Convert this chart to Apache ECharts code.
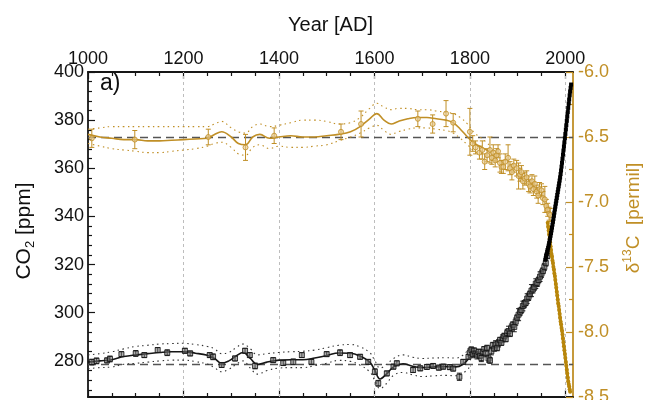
<!DOCTYPE html>
<html><head><meta charset="utf-8">
<script src="https://cdn.jsdelivr.net/npm/echarts@6.0.0/dist/echarts.min.js"></script>
<style>html,body{margin:0;padding:0;background:#fff}#c{width:649px;height:400px}</style>
</head><body><div id="c"></div>
<script>
// ---------- axis ticks ----------
const yearTicks = [1000,1200,1400,1600,1800,2000];
const yearMinor = [1050,1100,1150,1250,1300,1350,1450,1500,1550,1650,1700,1750,1850,1900,1950];
const gridYears = [1200,1400,1600,1800,2000];
const co2Ticks = [280,300,320,340,360,380,400];
const co2Minor = [268,272,276,284,288,292,296,304,308,312,316,324,328,332,336,344,348,352,356,364,368,372,376,384,388,392,396];
const d13Ticks = [-8.5,-8.0,-7.5,-7.0,-6.5,-6.0];
const d13Minor = [-8.25,-7.75,-7.25,-6.75,-6.25];
const co2Ref = 278.7;
const d13Ref = -6.5;

// ---------- CO2 (black) ----------
const co2SmoothYears = [1000,1025,1050,1075,1100,1125,1150,1175,1200,1225,1250,1265,1280,1295,1310,1325,1340,1355,1375,1400,1425,1450,1475,1500,1525,1550,1570,1590,1600,1612,1625,1640,1660,1680,1700,1725,1750,1770,1785,1800];
const co2Smooth = [279.5,280,280.5,281.8,282.5,283,283.5,283.8,283.8,283.2,282.3,281,279,280,282,283.5,281,278.5,279.5,280.3,280.5,280.5,281.2,282.2,283.3,283.2,282,279.5,276.5,272.5,274.5,277.5,278.8,277.8,277.2,277.5,277.6,277.5,278.5,281.5];
const co2Upper = [282.5,283,283.8,285,286,286.5,287,287.2,287.3,286.8,286,285,283,283.5,285.5,287,285,282.5,283,283.5,283.8,284,284.5,285.5,286.5,286.8,285.8,283.5,280.5,277,278.5,281,282.5,281.5,281,281.2,281.3,281.2,282.3,285.5];
const co2Lower = [276.8,277.2,277.5,278.6,279,279.5,280,280.3,280.3,279.7,278.7,277.2,275.5,276.5,278.5,280,277,274.5,276,277,277.2,277.2,278,279,280.2,279.8,278.2,275.5,272.2,268.5,270.5,274,275.2,274.2,273.5,273.8,274,273.8,274.8,277.5];

const co2IceYears = [1008,1018,1040,1046,1070,1100,1118,1146,1166,1203,1214,1255,1262,1280,1308,1329,1339,1350,1388,1409,1430,1448,1468,1500,1528,1549,1570,1587,1601,1608,1626,1640,1647,1681,1696,1710,1723,1735,1744,1758,1765,1778,1786,1797];
const co2IceVals  = [279.5,280,280.2,280.8,282.8,283.1,282.4,284.5,283.4,284.2,283.1,282.4,281.7,278.3,281,284.2,282.4,277.9,280.3,279.1,279.6,282.4,279.6,282.8,283.4,282.4,281.7,279.6,275.5,270.7,274.8,277.6,279,276.2,276.9,277.5,277.9,277.2,277.6,277.4,276.8,273.4,279.6,281.7];
const co2IceErr   = [1.2,1.2,1,1.2,1,1.2,1,1,1.2,1,1,1,1.2,1,1,1,1,1.2,1,1,1.2,1,1,1,1.2,1,1,1,1.2,1.2,1,1,1,1,1,1,1,1,1,1,1,1.5,1,1];

const co2FirnYears = [1800,1803,1806,1809,1812,1815,1818,1821,1824,1827,1830,1833,1836,1839,1842,1845,1848,1851,1854,1857,1860,1863,1866,1869,1872,1875,1878,1881,1884,1887,1890,1893,1896,1899,1902,1905,1908,1911,1914,1917,1920,1923,1926,1929,1932,1935,1938,1941,1944,1947,1950,1953,1956,1959,1962,1965];
const co2FirnVals  = [283.5,284.6,282.8,284.2,283.0,282.3,283.7,282.1,281.2,283.6,284.9,283.2,285.3,281.0,280.2,284.0,286.5,285.1,286.9,285.4,287.3,288.6,287.5,289.4,290.3,289.0,291.6,292.4,291.3,293.8,295.0,294.1,296.3,297.9,299.2,300.4,301.1,302.8,303.6,304.2,305.9,306.6,307.8,309.2,309.7,310.6,312.1,312.4,313.6,315.0,316.2,317.4,319.0,320.6,323.5,325.8];
const co2FirnErr   = [1.5,1.2,1.5,1.2,1,1.5,1.2,1,1.5,1.2,1,1.5,1.2,1.5,1.2,1.5,1.2,1,1.5,1.2,1.5,1.2,1,1.5,1.2,1,1.5,2,1.2,1.5,1.2,2,1.5,1.2,2.5,1.5,1.2,2,1.5,1.2,2,1.5,1.2,2.5,1.5,1.2,2,1.5,1.2,2,1.5,1.2,1.5,1.2,1,1];

const co2AtmYears = [1958,1959,1960,1961,1962,1963,1964,1965,1966,1967,1968,1969,1970,1971,1972,1973,1974,1975,1976,1977,1978,1979,1980,1981,1982,1983,1984,1985,1986,1987,1988,1989,1990,1991,1992,1993,1994,1995,1996,1997,1998,1999,2000,2001,2002,2003,2004,2005,2006,2007,2008,2009,2010,2011,2012];
const co2AtmVals  = [322.0,322.8,323.6,324.4,325.3,326.1,327.0,327.9,328.9,329.9,330.9,332.0,333.1,334.2,335.4,336.6,337.8,339.0,340.3,341.6,342.9,344.1,345.3,346.5,347.7,348.9,350.1,351.3,352.5,353.7,354.9,356.2,357.6,359.1,360.7,362.3,364.0,365.7,367.4,369.1,370.8,372.5,374.3,376.1,377.9,379.7,381.5,383.3,385.1,386.9,388.6,390.3,391.9,393.4,394.8];

// ---------- d13C (gold) ----------
const d13SmoothYears = [1000,1025,1050,1075,1100,1125,1150,1175,1200,1225,1250,1265,1280,1300,1315,1330,1345,1360,1380,1400,1425,1450,1475,1500,1525,1550,1570,1590,1605,1620,1635,1650,1670,1690,1710,1730,1750,1765,1780,1795,1810,1825,1840];
const d13Smooth = [-6.48,-6.50,-6.51,-6.52,-6.52,-6.53,-6.53,-6.525,-6.52,-6.515,-6.51,-6.48,-6.46,-6.50,-6.55,-6.56,-6.50,-6.48,-6.51,-6.50,-6.49,-6.50,-6.50,-6.49,-6.48,-6.46,-6.42,-6.36,-6.32,-6.37,-6.40,-6.38,-6.36,-6.35,-6.35,-6.36,-6.37,-6.39,-6.44,-6.50,-6.55,-6.58,-6.61];
const d13Upper = [-6.44,-6.43,-6.42,-6.42,-6.42,-6.42,-6.42,-6.42,-6.42,-6.42,-6.42,-6.40,-6.38,-6.43,-6.46,-6.47,-6.42,-6.40,-6.42,-6.41,-6.39,-6.37,-6.37,-6.38,-6.40,-6.39,-6.35,-6.28,-6.24,-6.27,-6.29,-6.28,-6.28,-6.29,-6.29,-6.30,-6.31,-6.32,-6.35,-6.40,-6.47,-6.51,-6.56];
const d13Lower = [-6.55,-6.57,-6.59,-6.60,-6.61,-6.62,-6.62,-6.61,-6.60,-6.59,-6.57,-6.55,-6.54,-6.58,-6.63,-6.64,-6.58,-6.56,-6.59,-6.57,-6.58,-6.58,-6.57,-6.56,-6.53,-6.50,-6.47,-6.43,-6.41,-6.45,-6.48,-6.46,-6.44,-6.43,-6.43,-6.44,-6.45,-6.47,-6.51,-6.56,-6.61,-6.63,-6.66];

const d13IceYears = [1008,1098,1252,1330,1390,1530,1572,1691,1722,1750,1765];
const d13IceVals  = [-6.51,-6.52,-6.50,-6.58,-6.49,-6.46,-6.40,-6.36,-6.40,-6.32,-6.39];
const d13IceErr   = [0.07,0.07,0.06,0.10,0.06,0.06,0.10,0.06,0.07,0.10,0.07];

const d13FirnYears = [1800,1806,1812,1820,1826,1831,1836,1842,1846,1849,1853,1856,1859,1863,1866,1870,1874,1880,1884,1888,1892,1898,1902,1905,1908,1911,1915,1919,1923,1926,1930,1933,1936,1940,1943,1946,1950,1953,1957,1960,1963,1966,1968];
const d13FirnVals  = [-6.46,-6.55,-6.58,-6.62,-6.60,-6.69,-6.64,-6.60,-6.66,-6.62,-6.68,-6.64,-6.61,-6.70,-6.73,-6.73,-6.69,-6.66,-6.74,-6.77,-6.72,-6.74,-6.80,-6.79,-6.77,-6.84,-6.82,-6.81,-6.86,-6.88,-6.84,-6.90,-6.86,-6.92,-6.95,-6.90,-6.91,-6.97,-6.98,-7.03,-7.06,-7.09,-7.10];
const d13FirnErr   = [0.18,0.06,0.05,0.05,0.07,0.06,0.05,0.10,0.05,0.06,0.05,0.05,0.05,0.07,0.05,0.05,0.06,0.10,0.05,0.06,0.05,0.06,0.10,0.05,0.05,0.06,0.05,0.05,0.06,0.05,0.05,0.05,0.06,0.05,0.06,0.05,0.05,0.05,0.10,0.05,0.05,0.05,0.05];

const d13AtmYears = [1963,1964,1965,1966,1967,1968,1969,1970,1971,1972,1973,1974,1975,1976,1977,1978,1979,1980,1981,1982,1983,1984,1985,1986,1987,1988,1989,1990,1991,1992,1993,1994,1995,1996,1997,1998,1999,2000,2001,2002,2003,2004,2005,2006,2007,2008,2009,2010];
const d13AtmVals  = [-7.16,-7.19,-7.22,-7.25,-7.28,-7.31,-7.34,-7.37,-7.40,-7.42,-7.45,-7.47,-7.50,-7.52,-7.55,-7.57,-7.60,-7.63,-7.66,-7.69,-7.72,-7.75,-7.78,-7.80,-7.83,-7.86,-7.89,-7.92,-7.94,-7.97,-7.99,-8.02,-8.05,-8.08,-8.11,-8.14,-8.17,-8.20,-8.23,-8.26,-8.29,-8.32,-8.35,-8.38,-8.40,-8.42,-8.44,-8.46];

// ---------- styling ----------
const GOLD = '#C08F26';
const INK = '#161616';
const FONT = '"Liberation Sans", Arial, Helvetica, sans-serif';
const X_MIN = 1000, X_MAX = 2016;

function zip(a, b, c) { return a.map((v, i) => c ? [v, b[i], c[i]] : [v, b[i]]); }
function errBar(color) {
  return function (p, api) {
    const x = api.value(0), y = api.value(1), e = api.value(2);
    const t = api.coord([x, y + e]), b = api.coord([x, y - e]);
    const w = 2.5, st = { stroke: color, lineWidth: 1 };
    return { type: 'group', children: [
      { type: 'line', shape: { x1: t[0], y1: t[1], x2: b[0], y2: b[1] }, style: st },
      { type: 'line', shape: { x1: t[0] - w, y1: t[1], x2: t[0] + w, y2: t[1] }, style: st },
      { type: 'line', shape: { x1: b[0] - w, y1: b[1], x2: b[0] + w, y2: b[1] }, style: st }
    ]};
  };
}
const xBase = { type: 'value', min: X_MIN, max: X_MAX, splitLine: { show: false } };
const tickStyle = c => ({ color: c, width: 1.2 });

const chart = echarts.init(document.getElementById('c'), null, { renderer: 'canvas' });
chart.setOption({
  animation: false,
  backgroundColor: '#fff',
  grid: { left: 88, right: 76, top: 72, bottom: 3, containLabel: false, outerBoundsMode: 'none' },
  xAxis: [
    { ...xBase, position: 'top',
      axisLine: { show: true, lineStyle: { color: INK, width: 1.8 } },
      axisTick: { show: true, inside: true, length: 7, customValues: yearTicks, lineStyle: tickStyle(INK) },
      axisLabel: { show: true, customValues: yearTicks, fontSize: 18, color: '#111', margin: 4, fontFamily: FONT,
                   formatter: v => String(v) },
      name: 'Year [AD]', nameLocation: 'middle', nameGap: 37,
      nameTextStyle: { fontSize: 20, color: '#111', fontFamily: FONT } },
    { ...xBase, position: 'top', axisLine: { show: false },
      axisTick: { show: true, inside: true, length: 4, customValues: yearMinor, lineStyle: tickStyle(INK) },
      axisLabel: { show: false } },
    { ...xBase, position: 'bottom',
      axisLine: { show: true, lineStyle: { color: INK, width: 1.8 } },
      axisTick: { show: true, inside: true, length: 7, customValues: yearTicks, lineStyle: tickStyle(INK) },
      axisLabel: { show: false } },
    { ...xBase, position: 'bottom', axisLine: { show: false },
      axisTick: { show: true, inside: true, length: 4, customValues: yearMinor, lineStyle: tickStyle(INK) },
      axisLabel: { show: false } }
  ],
  yAxis: [
    { type: 'value', position: 'left', min: 265, max: 400, splitLine: { show: false },
      axisLine: { show: true, lineStyle: { color: INK, width: 1.8 } },
      axisTick: { show: true, inside: true, length: 7, customValues: co2Ticks, lineStyle: tickStyle(INK) },
      axisLabel: { show: true, customValues: co2Ticks, fontSize: 18, color: '#111', margin: 4, fontFamily: FONT } },
    { type: 'value', position: 'left', min: 265, max: 400, splitLine: { show: false },
      axisLine: { show: false },
      axisTick: { show: true, inside: true, length: 4, customValues: co2Minor, lineStyle: tickStyle(INK) },
      axisLabel: { show: false } },
    { type: 'value', position: 'right', min: -8.5, max: -6.0, splitLine: { show: false },
      axisLine: { show: true, lineStyle: { color: GOLD, width: 1.8 } },
      axisTick: { show: true, inside: true, length: 7, customValues: d13Ticks, lineStyle: tickStyle(GOLD) },
      axisLabel: { show: true, customValues: d13Ticks, fontSize: 18, color: GOLD, margin: 5, fontFamily: FONT,
                   formatter: v => Number(v).toFixed(1) } },
    { type: 'value', position: 'right', min: -8.5, max: -6.0, splitLine: { show: false },
      axisLine: { show: false },
      axisTick: { show: true, inside: true, length: 4, customValues: d13Minor, lineStyle: tickStyle(GOLD) },
      axisLabel: { show: false } }
  ],
  graphic: [
    { type: 'text', left: 100, top: 72, style: { text: 'a)', fontSize: 23, fill: '#111', fontFamily: FONT } },
    { type: 'text', x: 24, y: 231, rotation: Math.PI / 2,
      style: { text: '{a|CO}{s|2}{a| [ppm]}', textAlign: 'center', textVerticalAlign: 'middle', fill: '#111',
        rich: { a: { fontSize: 21, lineHeight: 26, fontFamily: FONT, fill: '#111' },
                s: { fontSize: 13, lineHeight: 14, verticalAlign: 'bottom', fontFamily: FONT, fill: '#111' } } } },
    { type: 'text', x: 634, y: 218, rotation: Math.PI / 2,
      style: { text: '{a|δ}{p|13}{a|C  [permil]}', textAlign: 'center', textVerticalAlign: 'middle', fill: GOLD,
        rich: { a: { fontSize: 19, lineHeight: 24, fontFamily: FONT, fill: GOLD },
                p: { fontSize: 12, lineHeight: 13, verticalAlign: 'top', fontFamily: FONT, fill: GOLD } } } }
  ],
  series: [
    // CO2 envelope + vertical grid
    { type: 'line', xAxisIndex: 0, yAxisIndex: 0, data: zip(co2SmoothYears, co2Upper), smooth: 0.4, symbol: 'none', z: 2,
      lineStyle: { color: '#333', width: 1.1, type: [1.5, 3.5] },
      markLine: { silent: true, symbol: ['none', 'none'], z: 1, label: { show: false },
        lineStyle: { color: '#bdbdbd', width: 1, type: [3, 3] },
        data: gridYears.map(v => ({ xAxis: v })) } },
    { type: 'line', xAxisIndex: 0, yAxisIndex: 0, data: zip(co2SmoothYears, co2Lower), smooth: 0.4, symbol: 'none', z: 2,
      lineStyle: { color: '#333', width: 1.1, type: [1.5, 3.5] } },
    { type: 'line', xAxisIndex: 0, yAxisIndex: 0, data: zip(co2SmoothYears, co2Smooth), smooth: 0.4, symbol: 'none', z: 3,
      lineStyle: { color: INK, width: 1.6 },
      markLine: { silent: true, symbol: ['none', 'none'], z: 2, label: { show: false },
        lineStyle: { color: '#555', width: 1.3, type: [8, 5] }, data: [{ yAxis: co2Ref }] } },
    // d13C envelope + smooth
    { type: 'line', xAxisIndex: 0, yAxisIndex: 2, data: zip(d13SmoothYears, d13Upper), smooth: 0.4, symbol: 'none', z: 2,
      lineStyle: { color: GOLD, width: 1.1, type: [1.5, 3.5] } },
    { type: 'line', xAxisIndex: 0, yAxisIndex: 2, data: zip(d13SmoothYears, d13Lower), smooth: 0.4, symbol: 'none', z: 2,
      lineStyle: { color: GOLD, width: 1.1, type: [1.5, 3.5] } },
    { type: 'line', xAxisIndex: 0, yAxisIndex: 2, data: zip(d13SmoothYears, d13Smooth), smooth: 0.4, symbol: 'none', z: 3,
      lineStyle: { color: GOLD, width: 1.6 },
      markLine: { silent: true, symbol: ['none', 'none'], z: 2, label: { show: false },
        lineStyle: { color: '#555', width: 1.3, type: [8, 5] }, data: [{ yAxis: d13Ref }] } },
    // CO2 ice core points
    { type: 'custom', xAxisIndex: 0, yAxisIndex: 0, renderItem: errBar('#222'), data: zip(co2IceYears, co2IceVals, co2IceErr), z: 4 },
    { type: 'scatter', xAxisIndex: 0, yAxisIndex: 0, data: zip(co2IceYears, co2IceVals), symbol: 'rect', symbolSize: 5, z: 5,
      itemStyle: { color: 'rgba(110,110,110,0.7)', borderColor: '#111', borderWidth: 1 } },
    { type: 'custom', xAxisIndex: 0, yAxisIndex: 0, renderItem: errBar('#222'), data: zip(co2FirnYears, co2FirnVals, co2FirnErr), z: 4 },
    { type: 'scatter', xAxisIndex: 0, yAxisIndex: 0, data: zip(co2FirnYears, co2FirnVals), symbol: 'rect', symbolSize: 5, z: 5,
      itemStyle: { color: 'rgba(110,110,110,0.7)', borderColor: '#111', borderWidth: 1 } },
    // d13C points
    { type: 'custom', xAxisIndex: 0, yAxisIndex: 2, renderItem: errBar(GOLD), data: zip(d13IceYears, d13IceVals, d13IceErr), z: 4 },
    { type: 'scatter', xAxisIndex: 0, yAxisIndex: 2, data: zip(d13IceYears, d13IceVals), symbol: 'circle', symbolSize: 5, z: 5,
      itemStyle: { color: 'rgba(230,200,140,0.8)', borderColor: GOLD, borderWidth: 1 } },
    { type: 'custom', xAxisIndex: 0, yAxisIndex: 2, renderItem: errBar(GOLD), data: zip(d13FirnYears, d13FirnVals, d13FirnErr), z: 4 },
    { type: 'scatter', xAxisIndex: 0, yAxisIndex: 2, data: zip(d13FirnYears, d13FirnVals), symbol: 'circle', symbolSize: 5, z: 5,
      itemStyle: { color: 'rgba(230,200,140,0.8)', borderColor: GOLD, borderWidth: 1 } },
    // atmospheric records (dense)
    { type: 'line', xAxisIndex: 0, yAxisIndex: 2, data: zip(d13AtmYears, d13AtmVals), symbol: 'circle', symbolSize: 4, showSymbol: true, z: 6,
      lineStyle: { color: '#B8860B', width: 3 }, itemStyle: { color: '#B8860B' } },
    { type: 'line', xAxisIndex: 0, yAxisIndex: 0, data: zip(co2AtmYears, co2AtmVals), symbol: 'rect', symbolSize: 4, showSymbol: true, z: 7,
      lineStyle: { color: '#000', width: 3 }, itemStyle: { color: '#000' } }
  ]
});
</script></body></html>
